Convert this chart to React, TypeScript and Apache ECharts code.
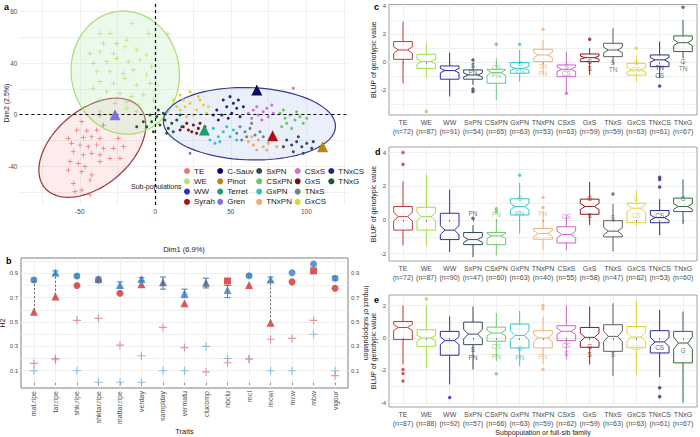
import React, { useEffect, useRef } from "react";
import * as echarts from "echarts";

const FONT = "'Liberation Sans', Arial, sans-serif";
const TXT = "#4d4d4d";
const GRIDC = "#ebebeb";
const PLUS = "path://M4.3,0H5.7V10H4.3ZM0,4.3H10V5.7H0Z";

// ---------------- Panel a: PCA ----------------
const subPopNames = ["TE", "WE", "WW", "Syrah", "C-Sauv", "Pinot", "Terret", "Gren", "SxPN", "CSxPN", "GxPN", "TNxPN", "CSxS", "GxS", "TNxS", "GxCS", "TNxCS", "TNxG"];
const subPopColors = ["#e05555", "#9be04a", "#1f2fd0", "#b01010", "#0b0b5e", "#b8860b", "#1f9e6e", "#8470e0", "#34495e", "#6cc46c", "#2cc6c8", "#f2a86a", "#d070d0", "#7a0f0f", "#708090", "#e6d22a", "#23237a", "#1d5a2a"];

const pointsTE = [[-48.7, -5.4], [-52, -11.9], [-45.4, -12.6], [-38.8, -11.9], [-57.6, -18.3], [-47.7, -17.8], [-42.1, -17.1], [-36.6, -18.3], [-55.4, -22.2], [-49.9, -23.5], [-44.4, -24.8], [-38.8, -23.5], [-34.4, -26.1], [-54.3, -28.7], [-47.7, -31.2], [-42.1, -29.9], [-36.6, -31.2], [-27.8, -26.1], [-21.2, -24.8], [-56.5, -36.4], [-51, -37.7], [-46.6, -40.3], [-48.7, -44.2], [-42.1, -46.7], [-43.2, -50.6], [-54.3, -53.2], [-53.2, -59.7], [-48.7, -58.4], [-57.6, -42.9], [-30, -33.8], [-23.4, -33.8], [-36.6, -36.4], [-24.5, -18.3], [-34.4, -8], [-36.6, -0.2], [-43.2, -62.2]];
const pointsWE = [[-36.6, 63.1], [-30, 63.1], [-34.4, 55.3], [-25.6, 55.3], [-18.9, 57.9], [-15.6, 70.9], [-4.6, 63.1], [-43.2, 47.6], [-36.6, 48.8], [-27.8, 47.6], [-20.1, 52.7], [-12.3, 50.2], [-5.7, 46.3], [-41.1, 39.8], [-32.2, 41.1], [-25.6, 43.7], [-17.9, 41.1], [-10.1, 42.4], [-2.4, 37.2], [-38.8, 33.3], [-30, 33.3], [-21.2, 32.1], [-14.6, 34.7], [-5.7, 30.8], [-36.6, 25.6], [-27.8, 24.3], [-20.1, 28.2], [-12.3, 23], [-3.5, 24.3], [-41.1, 20.5], [-32.2, 17.8], [-23.4, 16.6], [-15.6, 14], [-7.9, 15.3], [-36.6, 11.4], [-26.7, 8.8], [-18.9, 10.1], [-11.3, 7.5], [-1.3, 11.4], [8.4, 63.1], [-36.6, 2.3], [-30, -0.2], [-18.9, 5], [-12.3, 2.3]];
const pointsWW: number[][] = [];
const pointsSyrah = [[77.7, -16.3]];
const pointsCSauv = [[67.2, 19.1]];
const pointsPinot = [[110.8, -24.8]];
const pointsTerret = [[32.5, -11.9]];
const pointsGren = [[-26.7, 0]];
const pointsSxPN = [[87, -19.6], [90.3, -23.5], [93.6, -20.9], [97, -24.8], [100.3, -22.2], [103.6, -26.1], [91.4, -28.7], [98, -29.9], [84.8, -24.8], [104.6, -20.9], [94.7, -17.1]];
const pointsCSxPN = [[82.6, 1.1], [85.9, -2.8], [89.2, -0.2], [92.5, -4.1], [95.8, -1.5], [87, -6.7], [93.6, 2.3], [98, -6.7], [83.7, -9.3], [90.3, -10.6], [100.3, -2.8], [84.8, 3.6]];
const pointsGxPN = [[34, -14.4], [38.4, -10.6], [41.7, -17.1], [45, -13.2], [49.5, -17.1], [36.2, -19.6], [42.8, -20.9], [51.7, -11.9], [47.3, -9.3], [39.5, -22.2], [53.9, -19.6]];
const pointsTNxPN = [[61.6, -20.9], [64.9, -23.5], [68.2, -19.6], [71.5, -24.8], [74.8, -22.2], [78.1, -18.3], [67.2, -27.4], [73.8, -27.4], [63.8, -17.1], [80.4, -24.8]];
const pointsCSxS = [[61.6, 1.1], [64.9, 3.6], [68.2, -0.2], [71.5, 2.3], [74.8, -1.5], [67.2, 6.2], [73.8, 5], [78.1, 1.1], [63.8, -2.8], [70.5, -4.1], [77.1, 7.5], [91.4, 20.5]];
const pointsGxS = [[18.5, -9.3], [21.9, -11.9], [25.2, -8], [28.5, -10.6], [20.8, -6.7], [24.1, -13.2], [29.6, -6.7], [16.4, -11.9], [32.9, -9.3], [27.4, -14.4]];
const pointsTNxS = [[56.1, -9.3], [59.4, -13.2], [62.7, -10.6], [66, -15.7], [60.5, -17.1], [69.3, -13.2], [53.9, -14.4], [63.8, -6.7], [71.5, -17.1], [57.2, -19.6], [23, -29.9]];
const pointsGxCS = [[11.9, 11.4], [16.4, 15.3], [19.7, 6.2], [23, 8.8], [27.4, 3.6], [31.8, 7.5], [29.6, 11.4], [16.4, 3.6], [34, 1.1], [25.2, -0.2], [20.8, -1.5], [14.2, 6.2], [28.5, 14], [35.1, 6.2], [23, 17.8], [18.5, 11.4]];
const pointsTNxCS = [[40.7, 3.6], [44, -0.2], [47.3, 6.2], [50.6, 1.1], [53.9, 5], [45, 11.4], [51.7, 8.8], [56.1, -1.5], [41.7, -4.1], [48.3, -2.8], [38.4, -0.2], [58.3, 6.2], [49.5, 14], [55, 11.4]];
const pointsTNxG = [[-5.7, -9.3], [-2.4, -5.4], [0.9, -1.5], [3.1, -8], [6.4, -4.1], [8.6, -10.6], [-1.3, -13.2], [5.3, 1.1], [10.9, -6.7], [-7.9, -5.4], [11.9, -13.2], [2, 3.6], [7.5, -14.4], [-3.5, -0.2], [14.2, -4.1], [17.5, -9.3], [-12.3, -9.3], [16.4, -0.2]];
const pointsBySubPop = [pointsTE, pointsWE, pointsWW, pointsSyrah, pointsCSauv, pointsPinot, pointsTerret, pointsGren, pointsSxPN, pointsCSxPN, pointsGxPN, pointsTNxPN, pointsCSxS, pointsGxS, pointsTNxS, pointsGxCS, pointsTNxCS, pointsTNxG];
const founderNames = ["Syrah", "C-Sauv", "Pinot", "Terret", "Gren"];

// ellipses: centre x, centre y, axis-vector u (x, y), axis-vector v (x, y)
const ellipseTE = [-41.7, -25.6, 31.5, 31.1, 16.2, -22.6];
const ellipseWE = [-19.9, 32.6, -5.3, 47.4, 35.5, 5.4];
const ellipseFam = [62.3, -7, 57, -2.3, -0.9, -28];

// ---------------- Panel b: heritability ----------------
const traits = ["mat.ripe", "tar.ripe", "shk.ripe", "shktar.ripe", "mattar.ripe", "verday", "samplday", "vermatu", "clucomp", "nbclu", "mcl", "mcwi", "mcw", "mbw", "vigour"];
const h2BlueCircle = [[0, 0.845], [2, 0.878], [10, 0.88], [12, 0.905], [13, 0.976], [14, 0.86]];
const h2BlueTriangle = [[1, 0.905], [3, 0.853], [4, 0.804], [5, 0.853], [7, 0.736], [9, 0.763], [11, 0.85]];
const h2SlateTriangle = [[6, 0.826], [8, 0.823]];
const h2RedCircle = [[2, 0.8], [3, 0.845], [4, 0.736], [12, 0.83], [14, 0.777]];
const h2RedTriangle = [[0, 0.585], [1, 0.71], [5, 0.81], [7, 0.654], [10, 0.804], [11, 0.495]];
const h2RedSquare = [[9, 0.837], [13, 0.92]];
const impactBlue = [[0, 0.1], [1, 0.19], [2, 0.1], [3, 0.005], [4, 0.005], [5, 0.005], [6, 0.1], [7, 0.1], [8, 0.3], [9, 0.2], [10, 0.196], [11, 0.1], [12, 0.1], [13, 0.4], [14, 0.1]];
const impactRed = [[0, 0.16], [1, 0.2], [2, 0.514], [3, 0.53], [4, 0.31], [5, 0.223], [6, 0.456], [7, 0.29], [8, 0.09], [9, 0.165], [10, 0.196], [11, 0.358], [12, 0.366], [13, 0.514], [14, 0.06]];
const h2Links = [[0, 0.845, 0.585], [1, 0.905, 0.71], [11, 0.85, 0.495]];
const h2Errors = [[0, 0.83, 0.86], [1, 0.89, 0.92], [2, 0.865, 0.89], [3, 0.84, 0.87], [4, 0.78, 0.83], [5, 0.84, 0.865], [6, 0.77, 0.87], [7, 0.7, 0.77], [8, 0.78, 0.86], [9, 0.7, 0.8], [10, 0.87, 0.89], [11, 0.83, 0.87], [14, 0.845, 0.875]];

// ---------------- Panels c-e: BLUP boxplots ----------------
const boxCats = ["TE", "WE", "WW", "SxPN", "CSxPN", "GxPN", "TNxPN", "CSxS", "GxS", "TNxS", "GxCS", "TNxCS", "TNxG"];
const boxColors = ["#c23b3b", "#9be040", "#2c2cb4", "#34495e", "#70c870", "#2ec7c9", "#f0b27a", "#cc66cc", "#8b1a1a", "#5e5e5e", "#e3d12e", "#2a2a8a", "#2e6b3a"];
const nC = [72, 87, 91, 54, 65, 63, 53, 63, 59, 59, 63, 61, 67];
const nD = [72, 87, 90, 47, 60, 63, 40, 55, 58, 47, 62, 53, 60];
const nE = [87, 88, 92, 57, 66, 63, 59, 62, 59, 63, 63, 61, 67];
// [lower whisker, q1, median, q3, upper whisker]
const boxesC = [[-1.49, 0.21, 0.87, 1.47, 2.88], [-1.13, -0.43, 0.05, 0.57, 1.35], [-2.43, -1.2, -0.59, -0.26, 0.69], [-1.6, -1.2, -0.9, -0.54, -0.07], [-2.67, -1.49, -0.73, -0.5, 0.28], [-1.37, -0.78, -0.43, -0.02, 0.87], [-0.9, 0.05, 0.52, 0.92, 1.58], [-2.08, -1.02, -0.5, -0.19, 0.76], [-0.9, 0.05, 0.33, 0.59, 1.0], [-0.07, 0.4, 0.87, 1.35, 2.41], [-1.37, -0.9, -0.54, -0.07, 0.52], [-1.13, -0.31, 0.17, 0.52, 1.47], [0.28, 0.76, 1.39, 1.87, 3.0]];
const boxesD = [[-1.5, -0.6, 0.2, 0.8, 2.3], [-1.5, -0.6, 0.2, 0.76, 2.7], [-1.9, -1.16, -0.6, 0.4, 1.8], [-2.2, -1.46, -1.16, -0.74, -0.3], [-2.1, -1.46, -0.94, -0.74, 0.06], [-0.8, 0.3, 0.8, 1.26, 2.2], [-1.8, -1.14, -0.8, -0.5, 0.5], [-1.8, -1.36, -0.86, -0.4, 0.3], [-0.3, 0.34, 0.8, 1.24, 2.26], [-1.86, -1.0, -0.66, -0.04, 0.94], [-0.4, -0.16, 0.7, 1.0, 1.76], [-0.9, -0.16, 0.14, 0.56, 1.24], [-0.24, 0.5, 0.8, 1.3, 2.4]];
const boxesE = [[-1.63, -0.1, 0.65, 1.02, 2.0], [-1.84, -0.51, 0, 0.51, 2.0], [-2.86, -1.06, -0.16, 0.41, 1.33], [-1.94, -0.41, 0.24, 0.98, 1.94], [-1.43, -0.2, 0.31, 0.67, 1.53], [-1.73, -0.61, 0.16, 0.86, 1.67], [-1.6, -0.61, 0, 0.45, 1.3], [-1.33, -0.16, 0.41, 0.76, 2.0], [-1.63, -0.57, 0.04, 0.65, 1.94], [-2.35, -0.82, 0.1, 0.82, 2.14], [-2.24, -0.6, 0.06, 0.71, 2.35], [-2.41, -0.92, -0.24, 0.45, 1.73], [-3.98, -1.53, -0.31, 0.41, 1.63]];
const outliersC = [[1, -3.5], [3, 0.17], [3, -1.9], [3, -2.08], [4, 1.28], [5, 1.28], [6, 2.34], [7, -2.2], [8, 1.63], [10, 1.0], [11, -1.68], [12, 3.9]];
const outliersD = [[0, 4.0], [0, 3.3], [3, 0.1], [4, 0.66], [4, 0.5], [5, 2.66], [6, 1.34], [6, 0.74], [9, 1.54], [11, 2.54], [11, 2.4], [11, 1.96]];
const outliersE = [[0, -1.94], [0, -2.18], [0, -2.65], [1, 2.4], [2, -3.67], [4, -2.2], [6, 2.0], [6, 1.8], [6, -1.94], [11, -3.06], [11, -3.61]];
const lettersC = [[3, -0.2, "S"], [3, -0.72, "PN"], [4, -0.4, "CS"], [4, -0.92, "PN"], [5, -0.07, "G"], [5, -0.6, "PN"], [6, -0.3, "TN"], [6, -0.82, "PN"], [7, -0.28, "S"], [7, -0.8, "CS"], [8, 0.05, "G"], [8, -0.45, "S"], [9, 0.0, "S"], [9, -0.52, "TN"], [10, 0.02, "G"], [10, -0.54, "CS"], [11, -0.4, "TN"], [11, -0.93, "CS"], [12, 0.05, "G"], [12, -0.47, "TN"]];
const lettersD = [[3, 0.36, "PN"], [4, 0.3, "PN"], [5, 1.3, "G"], [5, 0.36, "PN"], [6, 0.36, "PN"], [7, 0.2, "CS"], [8, 1.3, "G"], [8, 0.26, "S"], [9, 0.14, "S"], [10, 1.3, "G"], [10, 0.24, "CS"], [11, 0.26, "CS"], [12, 1.3, "G"]];
const lettersE = [[3, -0.7, "S"], [3, -1.2, "PN"], [4, -0.51, "CS"], [4, -1.16, "PN"], [5, -0.66, "G"], [5, -1.2, "PN"], [6, -1.16, "PN"], [7, -0.45, "CS"], [7, -0.95, "S"], [8, -0.5, "G"], [8, -1.0, "S"], [9, -1.02, "S"], [10, -0.57, "CS"], [11, -0.61, "CS"], [12, -0.78, "G"]];

const range = (n: number) => Array.from({ length: n }, (_, i) => i);

function ellipseSeries(e: number[], stroke: string, fill: string) {
  return {
    type: "custom", xAxisIndex: 0, yAxisIndex: 0, silent: true, z: 1,
    data: [[e[0], e[1]]],
    renderItem: (_p: any, api: any) => {
      const pts: number[][] = [];
      for (let k = 0; k <= 90; k++) {
        const t = (k / 90) * Math.PI * 2;
        pts.push(api.coord([e[0] + e[2] * Math.cos(t) + e[4] * Math.sin(t), e[1] + e[3] * Math.cos(t) + e[5] * Math.sin(t)]));
      }
      return { type: "polygon", shape: { points: pts }, style: { fill, stroke, lineWidth: 1.2 } };
    },
  };
}

function xIndexAxis(gi: number, labels: string[], fmt: (i: number) => string, extra: any = {}) {
  const idx = range(labels.length);
  return {
    type: "value", gridIndex: gi, min: -0.6, max: labels.length - 1 + 0.6,
    axisLine: { show: false },
    axisTick: { show: true, customValues: idx, length: 2, lineStyle: { color: "#555", width: 0.7 } },
    axisLabel: { customValues: idx, formatter: (v: number) => fmt(Math.round(v)), color: TXT, fontSize: 7, lineHeight: 9, margin: 3, fontFamily: FONT, hideOverlap: false, showMinLabel: true, showMaxLabel: true },
    splitLine: { show: true, lineStyle: { color: GRIDC, width: 0.8 } },
    ...extra,
  };
}

function yValAxis(gi: number, min: number, max: number, labels: number[], ticks: number[], extra: any = {}) {
  return {
    type: "value", gridIndex: gi, min, max,
    axisLine: { show: false },
    axisTick: { show: false, customValues: ticks },
    axisLabel: { customValues: labels, color: TXT, fontSize: 6, margin: 3, fontFamily: FONT, showMinLabel: true, showMaxLabel: true },
    splitLine: { show: true, lineStyle: { color: GRIDC, width: 0.8 } },
    nameTextStyle: { color: "#222", fontSize: 7, fontFamily: FONT },
    ...extra,
  };
}

function boxSeries(xi: number, yi: number, boxes: number[][], ns: number[], outliers: number[][], letters: any[][]) {
  return [
    {
      type: "custom", xAxisIndex: xi, yAxisIndex: yi, z: 2,
      encode: { x: 0, y: [1, 2, 3, 4, 5] },
      data: boxes.map((b, i) => [i, ...b, ns[i]]),
      renderItem: (_p: any, api: any) => {
        const i = api.value(0), lo = api.value(1), q1 = api.value(2), md = api.value(3), q3 = api.value(4), hi = api.value(5), n = api.value(6);
        const col = boxColors[i];
        const nt = (1.58 * (q3 - q1)) / Math.sqrt(n);
        const hw = 0.4;
        const P = (x: number, y: number) => api.coord([x, y]);
        const poly = [P(i - hw, q1), P(i - hw, md - nt), P(i - hw / 2, md), P(i - hw, md + nt), P(i - hw, q3), P(i + hw, q3), P(i + hw, md + nt), P(i + hw / 2, md), P(i + hw, md - nt), P(i + hw, q1)];
        const a = P(i, hi), b = P(i, q3), c = P(i, q1), d = P(i, lo);
        const m1 = P(i - hw / 2, md), m2 = P(i + hw / 2, md);
        const ls = { stroke: col, lineWidth: 1 };
        return {
          type: "group",
          children: [
            { type: "line", shape: { x1: a[0], y1: a[1], x2: b[0], y2: b[1] }, style: ls },
            { type: "line", shape: { x1: c[0], y1: c[1], x2: d[0], y2: d[1] }, style: ls },
            { type: "polygon", shape: { points: poly }, style: { fill: "rgba(255,255,255,0)", stroke: col, lineWidth: 1 } },
            { type: "line", shape: { x1: m1[0], y1: m1[1], x2: m2[0], y2: m2[1] }, style: ls },
          ],
        };
      },
    },
    {
      type: "scatter", xAxisIndex: xi, yAxisIndex: yi, z: 3, symbolSize: 3.5,
      data: outliers.map(([i, v]) => ({ value: [i, v], itemStyle: { color: boxColors[i] } })),
    },
    {
      type: "scatter", xAxisIndex: xi, yAxisIndex: yi, z: 4, symbolSize: 1,
      itemStyle: { color: "rgba(0,0,0,0)" },
      data: letters.map(([i, v, t]) => ({ value: [i, v], label: { show: true, position: "inside", formatter: t, color: boxColors[i as number], fontSize: 6.5, fontFamily: FONT } })),
    },
  ];
}

function pointSeries(data: number[][], color: string, symbol: string, size: number, extra: any = {}) {
  return { type: "scatter", xAxisIndex: 1, yAxisIndex: 1, z: 4, symbol, symbolSize: size, itemStyle: { color }, data, ...extra };
}

export default function App() {
  const ref = useRef<HTMLDivElement>(null);
  useEffect(() => {
    const chart = echarts.init(ref.current!, null, { renderer: "svg" });
    const panelASeries = subPopNames.map((name, k) => {
      const isTEWE = name === "TE" || name === "WE";
      const isFounder = founderNames.includes(name);
      return {
        type: "scatter", name, xAxisIndex: 0, yAxisIndex: 0, z: isFounder ? 5 : 3,
        symbol: isTEWE ? PLUS : isFounder ? "triangle" : "circle",
        symbolSize: isTEWE ? 5 : isFounder ? 11 : 3,
        itemStyle: { color: subPopColors[k], opacity: isTEWE ? 0.8 : 1 },
        data: pointsBySubPop[k],
      };
    });
    const option: any = {
      animation: false,
      textStyle: { fontFamily: FONT },
      grid: [
        { left: 19.4, top: 1.2, width: 329.2, height: 203.8, outerBoundsMode: "none" },
        { left: 21, top: 258, width: 327, height: 130, show: true, borderColor: "#7f7f7f", borderWidth: 1, outerBoundsMode: "none" },
        { left: 389, top: 4.5, width: 308, height: 110.5, show: true, borderColor: "#a0a0a0", borderWidth: 1, outerBoundsMode: "none" },
        { left: 389, top: 147, width: 308, height: 114, show: true, borderColor: "#a0a0a0", borderWidth: 1, outerBoundsMode: "none" },
        { left: 389, top: 295, width: 308, height: 112, show: true, borderColor: "#a0a0a0", borderWidth: 1, outerBoundsMode: "none" },
      ],
      xAxis: [
        {
          type: "value", gridIndex: 0, min: -90, max: 128,
          axisLine: { show: false },
          axisTick: { show: false, customValues: [-75, -50, -25, 0, 25, 50, 75, 100, 125] },
          axisLabel: { customValues: [-50, 0, 50, 100], color: TXT, fontSize: 6.5, margin: 3 },
          splitLine: { show: true, lineStyle: { color: GRIDC, width: 0.8 } },
          name: "Dim1 (6.9%)", nameLocation: "middle", nameGap: 40,
          nameTextStyle: { color: "#222", fontSize: 7.5 },
        },
        xIndexAxis(1, traits, (i) => traits[i], {
          axisLabel: { customValues: range(traits.length), formatter: (v: number) => traits[Math.round(v)], rotate: 90, color: TXT, fontSize: 7, margin: 3, hideOverlap: false, showMinLabel: true, showMaxLabel: true },
          name: "Traits", nameLocation: "middle", nameGap: 36, nameTextStyle: { color: "#222", fontSize: 7.5 },
        }),
        xIndexAxis(2, boxCats, (i) => `${boxCats[i]}\n(n=${nC[i]})`),
        xIndexAxis(3, boxCats, (i) => `${boxCats[i]}\n(n=${nD[i]})`),
        xIndexAxis(4, boxCats, (i) => `${boxCats[i]}\n(n=${nE[i]})`, {
          name: "Subpopulation or full-sib family", nameLocation: "middle", nameGap: 21, nameTextStyle: { color: "#222", fontSize: 7 },
        }),
      ],
      yAxis: [
        yValAxis(0, -70, 88, [-40, 0, 40, 80], [-60, -40, -20, 0, 20, 40, 60, 80], {
          axisLabel: { customValues: [-40, 0, 40, 80], color: TXT, fontSize: 6.5, margin: 2 },
          name: "Dim2 (2.5%)", nameLocation: "middle", nameGap: 9, nameRotate: 90, nameMoveOverlap: false,
        }),
        yValAxis(1, -0.042, 1.026, [0.1, 0.3, 0.5, 0.7, 0.9], [0.1, 0.2, 0.3, 0.4, 0.5, 0.6, 0.7, 0.8, 0.9, 1.0], {
          name: "H2", nameLocation: "middle", nameGap: 12, nameRotate: 90,
        }),
        yValAxis(1, -0.042, 1.026, [0.1, 0.3, 0.5, 0.7, 0.9], [0.1, 0.3, 0.5, 0.7, 0.9], {
          position: "right", splitLine: { show: false },
          name: "Impact of subpopulation", nameLocation: "middle", nameGap: 12, nameRotate: -90,
        }),
        yValAxis(2, -3.74, 4.1, [-2, 0, 2, 4], [-3, -2, -1, 0, 1, 2, 3, 4], {
          name: "BLUP of genotypic value", nameLocation: "middle", nameGap: 9, nameRotate: 90,
        }),
        yValAxis(3, -2.43, 4.33, [-2, 0, 2, 4], [-2, -1, 0, 1, 2, 3, 4], {
          name: "BLUP of genotypic value", nameLocation: "middle", nameGap: 9, nameRotate: 90,
        }),
        yValAxis(4, -4.25, 2.65, [-4, -2, 0, 2], [-4, -3, -2, -1, 0, 1, 2], {
          name: "BLUP of genotypic value", nameLocation: "middle", nameGap: 9, nameRotate: 90,
        }),
      ],
      legend: {
        orient: "vertical", left: 184, top: 167, height: 42, padding: 0,
        itemWidth: 6, itemHeight: 6, itemGap: 2.3, icon: "circle", selectedMode: false,
        textStyle: { fontSize: 8, color: "#222", fontFamily: FONT, padding: [0, 0, 0, -1] },
        data: subPopNames,
      },
      graphic: [
        { type: "text", left: 4, top: 2, style: { text: "a", font: `bold 9px ${FONT}`, fill: "#000" } },
        { type: "text", left: 6, top: 256, style: { text: "b", font: `bold 9px ${FONT}`, fill: "#000" } },
        { type: "text", left: 374, top: 2, style: { text: "c", font: `bold 9px ${FONT}`, fill: "#000" } },
        { type: "text", left: 375, top: 147, style: { text: "d", font: `bold 9px ${FONT}`, fill: "#000" } },
        { type: "text", left: 374, top: 295, style: { text: "e", font: `bold 9px ${FONT}`, fill: "#000" } },
        { type: "text", left: 131, top: 183, style: { text: "Sub-populations", font: `7px ${FONT}`, fill: "#222" } },
      ],
      series: [
        ellipseSeries(ellipseTE, "#9e3535", "rgba(240,170,170,0.22)"),
        ellipseSeries(ellipseWE, "#a8dc70", "rgba(190,235,190,0.3)"),
        ellipseSeries(ellipseFam, "#3a3a90", "rgba(195,210,240,0.35)"),
        {
          type: "scatter", xAxisIndex: 0, yAxisIndex: 0, data: [], z: 2,
          markLine: {
            silent: true, symbol: ["none", "none"], label: { show: false },
            lineStyle: { color: "#000", type: [3, 3], width: 1.2 },
            data: [{ xAxis: 0 }, { yAxis: 0 }],
          },
        },
        ...panelASeries,
        // panel b
        {
          type: "scatter", xAxisIndex: 1, yAxisIndex: 1, data: [], z: 2,
          markLine: {
            silent: true, symbol: ["none", "none"], label: { show: false },
            lineStyle: { color: "#6a6a6a", type: [2, 2], width: 1 },
            data: h2Links.map(([i, a, b]) => [{ coord: [i, a] }, { coord: [i, b] }]),
          },
        },
        {
          type: "custom", xAxisIndex: 1, yAxisIndex: 1, z: 3,
          encode: { x: 0, y: [1, 2] },
          data: h2Errors,
          renderItem: (_p: any, api: any) => {
            const i = api.value(0);
            const lo = api.coord([i, api.value(1)]), hi = api.coord([i, api.value(2)]);
            const st = { stroke: "#3a7fc1", lineWidth: 1 };
            return {
              type: "group", children: [
                { type: "line", shape: { x1: lo[0], y1: lo[1], x2: hi[0], y2: hi[1] }, style: st },
                { type: "line", shape: { x1: lo[0] - 3, y1: lo[1], x2: lo[0] + 3, y2: lo[1] }, style: st },
                { type: "line", shape: { x1: hi[0] - 3, y1: hi[1], x2: hi[0] + 3, y2: hi[1] }, style: st },
              ],
            };
          },
        },
        pointSeries(impactBlue, "#7aaed6", PLUS, 8),
        pointSeries(impactRed, "#d98080", PLUS, 8),
        pointSeries(h2RedCircle, "#d03030", "circle", 7),
        pointSeries(h2RedTriangle, "#d03030", "triangle", 8),
        pointSeries(h2RedSquare, "#d03030", "rect", 7),
        pointSeries(h2BlueCircle, "#3a7fc1", "circle", 7),
        pointSeries(h2BlueTriangle, "#3a7fc1", "triangle", 8),
        pointSeries(h2SlateTriangle, "#4d6080", "triangle", 8),
        // panels c, d, e
        ...boxSeries(2, 3, boxesC, nC, outliersC, lettersC),
        ...boxSeries(3, 4, boxesD, nD, outliersD, lettersD),
        ...boxSeries(4, 5, boxesE, nE, outliersE, lettersE),
      ],
    };
    chart.setOption(option);
    return () => chart.dispose();
  }, []);
  return <div ref={ref} style={{ position: "fixed", left: 0, top: 0, width: 700, height: 437, background: "#fff" }} />;
}
